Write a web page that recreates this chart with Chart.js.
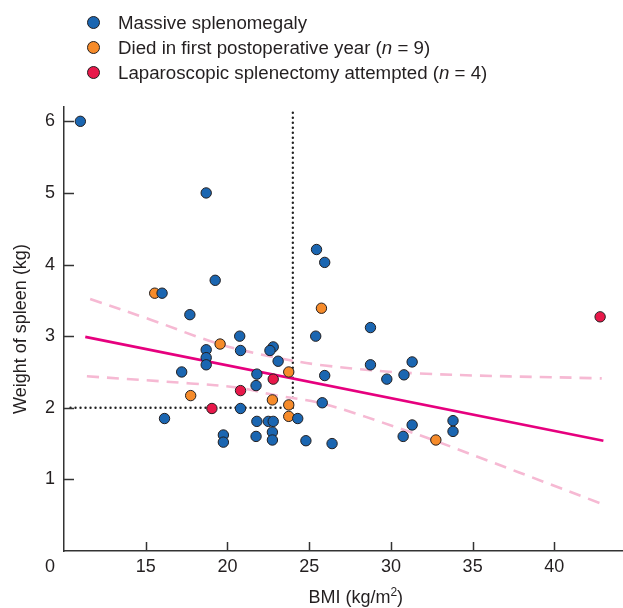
<!DOCTYPE html>
<html>
<head>
<meta charset="utf-8">
<script src="https://cdn.jsdelivr.net/npm/chart.js@4.4.1/dist/chart.umd.min.js"></script>
<style>
  html, body { margin: 0; padding: 0; background: #fff; }
  #wrap { position: relative; width: 623px; height: 608px; }
  #legend {
    position: absolute; left: 87px; top: 10px;
    font-family: "Liberation Sans", Arial, sans-serif; font-size: 18.7px; color: #231f20;
  }
  .row { display: flex; align-items: center; height: 25px; }
  .dot { width: 11px; height: 11px; border-radius: 50%; border: 1px solid #231f20; margin-right: 18px; }
</style>
</head>
<body>
<div id="wrap">
  <canvas id="spleenChart" width="623" height="608"></canvas>
  <div id="legend">
    <div class="row"><span class="dot" style="background:#1b66b1"></span>Massive splenomegaly</div>
    <div class="row"><span class="dot" style="background:#f68b2a"></span>Died in first postoperative year (<i>n</i>&nbsp;=&nbsp;9)</div>
    <div class="row"><span class="dot" style="background:#e8184a"></span>Laparoscopic splenectomy attempted (<i>n</i>&nbsp;=&nbsp;4)</div>
  </div>
</div>
<script>
// massive splenomegaly (blue)
const blueBmi = [11.0, 18.7, 25.45, 25.95, 19.25, 16.0, 17.7, 20.75, 25.4, 28.75, 18.7, 20.8, 22.8, 22.6, 23.1,
  18.7, 18.7, 17.2, 21.8, 21.75, 25.95, 28.75, 29.75, 30.8, 31.3, 25.8, 20.8, 16.15, 21.8, 22.5, 22.8, 24.3,
  22.75, 22.75, 21.75, 19.75, 19.75, 24.8, 26.4, 31.3, 30.75, 33.8, 33.8];
const blueWeight = [6.0, 5.0, 4.21, 4.03, 3.78, 3.60, 3.30, 3.0, 3.0, 3.12, 2.81, 2.80, 2.85, 2.80, 2.65,
  2.70, 2.60, 2.50, 2.47, 2.31, 2.45, 2.60, 2.40, 2.46, 2.64, 2.07, 1.99, 1.85, 1.81, 1.81, 1.81, 1.85,
  1.66, 1.55, 1.60, 1.62, 1.52, 1.54, 1.50, 1.76, 1.60, 1.82, 1.67];

// died in first postoperative year (orange)
const orangeBmi = [15.55, 25.75, 19.55, 23.75, 17.75, 22.75, 23.75, 23.75, 32.75];
const orangeWeight = [3.60, 3.39, 2.89, 2.50, 2.17, 2.11, 2.04, 1.88, 1.55];

// laparoscopic splenectomy attempted (red)
const redBmi = [42.8, 22.8, 20.8, 19.05];
const redWeight = [3.27, 2.40, 2.24, 1.99];

// regression line and confidence band
const fitBmi = [11.3, 43.0];
const fitWeight = [2.99, 1.54];
const upperBmi = [11.6, 15.3, 19.5, 22.8, 25.95, 31.6, 42.9];
const upperWeight = [3.52, 3.23, 2.89, 2.71, 2.59, 2.48, 2.41];
const lowerBmi = [11.4, 17.75, 20.7, 22.8, 25.95, 30.95, 32.7, 43.0];
const lowerWeight = [2.44, 2.34, 2.28, 2.18, 2.05, 1.68, 1.54, 0.65];

// dotted cut-offs
const vGuideBmi = [24, 24];
const vGuideWeight = [2, 6.17];
const hGuideBmi = [10.4, 24];
const hGuideWeight = [2, 2];

const xTicks = [15, 20, 25, 30, 35, 40];
const yTicks = [1, 2, 3, 4, 5, 6];

const FONT = '"Liberation Sans", Arial, sans-serif';
const INK = '#231f20';

function pts(xs, ys) {
    return xs.map((x, i) => ({ x: x, y: ys[i] }));
}

function dots(data, color) {
    return {
        data: data,
        backgroundColor: color,
        borderColor: INK,
        borderWidth: 1,
        pointRadius: 5.2,
        showLine: false
    };
}

function line(data, color, width, dash, extra) {
    return Object.assign({
        data: data,
        showLine: true,
        borderColor: color,
        borderWidth: width,
        borderDash: dash,
        pointRadius: 0,
        fill: false
    }, extra || {});
}

// inward tick marks, the shared "0" at the origin and the x title with a superscript
const axisExtras = {
    id: 'axisExtras',
    afterDraw(chart) {
        const c = chart.ctx;
        const xs = chart.scales.x, ys = chart.scales.y;
        c.save();
        c.strokeStyle = '#333';
        c.lineWidth = 1.5;
        xTicks.forEach(v => {
            const px = Math.round(xs.getPixelForValue(v)) + 0.5;
            c.beginPath();
            c.moveTo(px, xs.top);
            c.lineTo(px, xs.top - 9);
            c.stroke();
        });
        yTicks.forEach(v => {
            const py = Math.round(ys.getPixelForValue(v)) + 0.5;
            c.beginPath();
            c.moveTo(ys.right, py);
            c.lineTo(ys.right + 10, py);
            c.stroke();
        });
        c.fillStyle = INK;
        c.font = '18px ' + FONT;
        c.textAlign = 'right';
        c.textBaseline = 'middle';
        c.fillText('0', ys.right - 9, xs.top + 5 + 10.8);

        // x title: BMI (kg/m²)
        const main = 'BMI (kg/m', sup = '2', tail = ')';
        c.font = '18px ' + FONT;
        const wMain = c.measureText(main).width, wTail = c.measureText(tail).width;
        c.font = '12px ' + FONT;
        const wSup = c.measureText(sup).width;
        const cx = xs.getPixelForValue(27.85);
        let tx = cx - (wMain + wSup + wTail) / 2;
        const ty = 603;
        c.textAlign = 'left';
        c.textBaseline = 'alphabetic';
        c.font = '18px ' + FONT;
        c.fillText(main, tx, ty);
        tx += wMain;
        c.font = '12px ' + FONT;
        c.fillText(sup, tx, ty - 7);
        tx += wSup;
        c.font = '18px ' + FONT;
        c.fillText(tail, tx, ty);
        c.restore();
    }
};

new Chart(document.getElementById('spleenChart'), {
    type: 'scatter',
    data: {
        datasets: [
            dots(pts(blueBmi, blueWeight), '#1b66b1'),
            dots(pts(orangeBmi, orangeWeight), '#f68b2a'),
            dots(pts(redBmi, redWeight), '#e8184a'),
            line(pts(fitBmi, fitWeight), '#e6007e', 2.6, []),
            line(pts(upperBmi, upperWeight), '#f6b9d3', 2.6, [12, 8], { tension: 0.35 }),
            line(pts(lowerBmi, lowerWeight), '#f6b9d3', 2.6, [12, 8], { tension: 0.35 }),
            line(pts(vGuideBmi, vGuideWeight), '#222', 2.4, [0, 5], { borderCapStyle: 'round' }),
            line(pts(hGuideBmi, hGuideWeight), '#222', 2.4, [0, 5], { borderCapStyle: 'round' })
        ]
    },
    options: {
        responsive: false,
        animation: false,
        layout: { autoPadding: false, padding: { top: 107, right: 0, bottom: 0, left: 0 } },
        plugins: {
            legend: { display: false },
            tooltip: { enabled: false }
        },
        scales: {
            x: {
                type: 'linear',
                min: 10,
                max: 44.2,
                afterBuildTicks: s => { s.ticks = xTicks.map(v => ({ value: v })); },
                afterFit: s => { s.height = 57; s.paddingRight = 0; s.paddingLeft = 0; },
                grid: { display: false, drawTicks: false },
                border: { display: true, color: '#333', width: 1.5 },
                ticks: { padding: 5, color: INK, font: { family: FONT, size: 18 } },
                title: { display: false }
            },
            y: {
                type: 'linear',
                min: 0,
                max: 6.2,
                afterBuildTicks: s => { s.ticks = yTicks.map(v => ({ value: v })); },
                afterFit: s => { s.width = 64; s.paddingTop = 0; s.paddingBottom = 0; },
                grid: { display: false, drawTicks: false },
                border: { display: true, color: '#333', width: 1.5 },
                ticks: { padding: 9, color: INK, font: { family: FONT, size: 18 } },
                title: {
                    display: true,
                    text: 'Weight of spleen (kg)',
                    color: INK,
                    font: { family: FONT, size: 18 },
                    padding: { top: 10, bottom: 0 }
                }
            }
        }
    },
    plugins: [axisExtras]
});
</script>
</body>
</html>
